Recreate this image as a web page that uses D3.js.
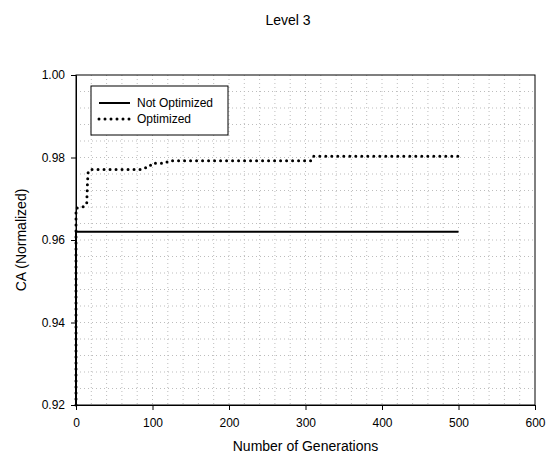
<!DOCTYPE html>
<html>
<head>
<meta charset="utf-8">
<script src="https://cdn.jsdelivr.net/npm/d3@7"></script>
<style>
  body { margin: 0; background: #fff; }
  text { font-family: "Liberation Sans", Arial, sans-serif; fill: #000; }
</style>
</head>
<body>
<svg id="chart" width="548" height="459"></svg>
<script>
// Data
const notOptGen = [0, 0, 500];
const notOptVal = [0.92, 0.962, 0.962];

const optGen = [0, 0, 9, 14, 15, 16, 21, 84, 86, 95, 97, 99, 117, 121, 307, 310, 500];
const optVal = [0.92, 0.9677, 0.968, 0.9687, 0.9740, 0.9768, 0.9771, 0.9771, 0.9774, 0.9776, 0.9780, 0.9786, 0.9786, 0.9792, 0.9792, 0.9803, 0.9803];

const xTicks = [0, 100, 200, 300, 400, 500, 600];
const yTicks = [0.92, 0.94, 0.96, 0.98, 1.00];

const titleText = "Level 3";
const xLabel = "Number of Generations";
const yLabel = "CA (Normalized)";
const legendNames = ["Not Optimized", "Optimized"];

// Layout
const margin = { top: 75, right: 13, bottom: 54, left: 76 };
const svg = d3.select("#chart");
const W = +svg.attr("width"), H = +svg.attr("height");
const width = W - margin.left - margin.right;
const height = H - margin.top - margin.bottom;

const x = d3.scaleLinear().domain([0, 600]).range([0, width]);
const y = d3.scaleLinear().domain([0.92, 1.0]).range([height, 0]);

const g = svg.append("g").attr("transform", `translate(${margin.left},${margin.top})`);

// Grid (minor, dotted)
const gridX = d3.range(20, 600, 20);
const gridY = d3.range(1, 20).map(i => 0.92 + i * 0.004);

g.selectAll("line.gx").data(gridX).enter().append("line")
    .attr("x1", d => x(d)).attr("x2", d => x(d))
    .attr("y1", 0).attr("y2", height)
    .attr("stroke", "#bdbdbd").attr("stroke-width", 1)
    .attr("stroke-dasharray", "1,3");

g.selectAll("line.gy").data(gridY).enter().append("line")
    .attr("x1", 0).attr("x2", width)
    .attr("y1", d => y(d)).attr("y2", d => y(d))
    .attr("stroke", "#bdbdbd").attr("stroke-width", 1)
    .attr("stroke-dasharray", "1,3");

// Frame
g.append("rect")
    .attr("x", 0).attr("y", 0).attr("width", width).attr("height", height)
    .attr("fill", "none").attr("stroke", "#000").attr("stroke-width", 1);

// Axes
const xAxis = g.append("g").attr("transform", `translate(0,${height})`)
    .call(d3.axisBottom(x).tickValues(xTicks).tickSize(5).tickPadding(8).tickFormat(d3.format("d")));
const yAxis = g.append("g")
    .call(d3.axisLeft(y).tickValues(yTicks).tickSize(5).tickPadding(6).tickFormat(d3.format(".2f")));

[xAxis, yAxis].forEach(a => {
    a.select(".domain").attr("stroke", "#000");
    a.selectAll(".tick line").attr("stroke", "#000");
    a.selectAll("text").style("font-size", "12px").style("font-family", "Liberation Sans, Arial, sans-serif");
});

// Lines
const line = d3.line().x(d => x(d[0])).y(d => y(d[1]));

const notOpt = notOptGen.map((d, i) => [d, notOptVal[i]]);
const opt = optGen.map((d, i) => [d, optVal[i]]);

g.append("path").datum(notOpt)
    .attr("d", line)
    .attr("fill", "none").attr("stroke", "#000").attr("stroke-width", 2);

g.append("path").datum(opt)
    .attr("d", line)
    .attr("fill", "none").attr("stroke", "#000").attr("stroke-width", 3)
    .attr("stroke-linecap", "round")
    .attr("stroke-dasharray", "0,6");

// Legend
const lg = g.append("g").attr("transform", "translate(15,11)");
lg.append("rect").attr("width", 137).attr("height", 49)
    .attr("fill", "#fff").attr("stroke", "#000").attr("stroke-width", 1);

legendNames.forEach((name, i) => {
    const yy = 17 + i * 16;
    lg.append("line").attr("x1", 8).attr("x2", 39).attr("y1", yy).attr("y2", yy)
        .attr("stroke", "#000")
        .attr("stroke-width", i === 0 ? 2 : 3)
        .attr("stroke-linecap", i === 0 ? "butt" : "round")
        .attr("stroke-dasharray", i === 0 ? null : "0,6");
    lg.append("text").attr("x", 46).attr("y", yy + 4)
        .style("font-size", "12px").text(name);
});

// Titles
svg.append("text").attr("x", 288).attr("y", 25)
    .attr("text-anchor", "middle").style("font-size", "14px").text(titleText);

svg.append("text").attr("x", margin.left + width / 2).attr("y", 451)
    .attr("text-anchor", "middle").style("font-size", "14px").text(xLabel);

svg.append("text")
    .attr("transform", `translate(26,${margin.top + height / 2}) rotate(-90)`)
    .attr("text-anchor", "middle").style("font-size", "14px").text(yLabel);
</script>
</body>
</html>
